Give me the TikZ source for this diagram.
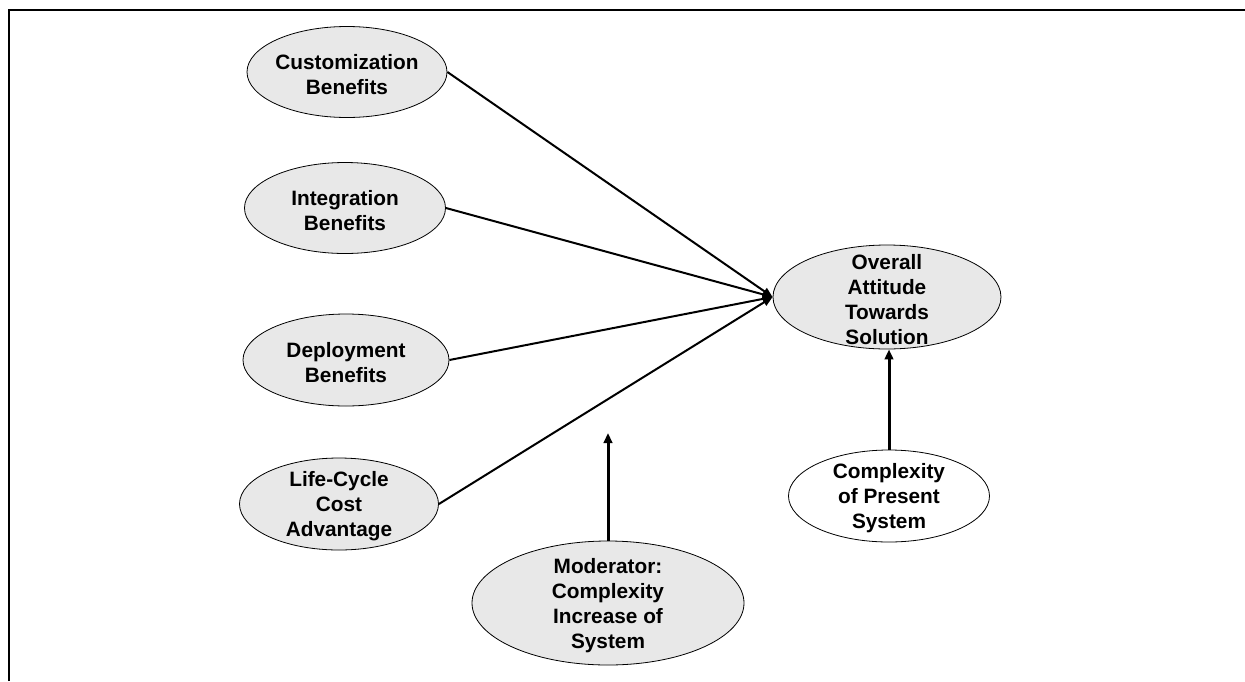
\documentclass[tikz,border=0pt]{standalone}
\usepackage{fontspec}
\setmainfont{Liberation Sans}
\usetikzlibrary{shapes.geometric,arrows.meta}
\definecolor{bubgray}{RGB}{232,232,232}
\begin{document}
\begin{tikzpicture}[x=1pt,y=-1pt,
  bub/.style={ellipse, draw, line width=0.8pt, fill=bubgray, inner sep=0pt},
  plain/.style={bub, fill=white},
  txt/.style={inner sep=0pt, yshift=-2.5pt, align=center, font=\bfseries\fontsize{20.8}{25}\selectfont},
  link/.style={line width=2pt, -{Triangle[length=10pt,width=8pt]}},
  heavy/.style={line width=3pt, -{Triangle[length=10pt,width=8.5pt]}},
  frame/.style={line width=1.8pt}]
\useasboundingbox (0,0) rectangle (1245,681);

% open frame: top and left edges
\coordinate (fl) at (9,681);
\coordinate (fc) at (9,10);
\coordinate (fr) at (1245,10);
\draw[frame] (fl) -- (fc) -- (fr);

% antecedents
\node[bub, minimum width=200, minimum height=91,
  label={[txt,name=cust-t]center:Customization\\Benefits}] (cust) at (347,72) {};
\node[bub, minimum width=201, minimum height=91,
  label={[txt,name=integ-t]center:Integration\\Benefits}] (integ) at (345,208) {};
\node[bub, minimum width=206, minimum height=92,
  label={[txt,name=depl-t]center:Deployment\\Benefits}] (depl) at (346,360) {};
\node[bub, minimum width=199, minimum height=92,
  label={[txt,name=life-t]center:Life-Cycle\\Cost\\Advantage}] (life) at (339,504) {};

% outcome
\node[bub, minimum width=228, minimum height=104,
  label={[txt,name=over-t]center:Overall\\Attitude\\Towards\\Solution}] (over) at (887,297) {};

% moderator and control
\node[bub, minimum width=272, minimum height=124,
  label={[txt,name=mod-t]center:Moderator:\\Complexity\\Increase of\\System}] (mod) at (608,603) {};
\node[plain, minimum width=201, minimum height=92,
  label={[txt,name=cps-t]center:Complexity\\of Present\\System}] (cps) at (889,496) {};

% paths into the outcome
\draw[link] (cust.east) -- (over.west);
\draw[link] (integ.east) -- (over.west);
\draw[link] (depl.east) -- (over.west);
\draw[link] (life.east) -- (over.west);

% moderating effect and control arrow
\coordinate (modtip) at (608,433);
\draw[heavy] (mod.north) -- (modtip);
\draw[heavy] (cps.north) -- (cps.north |- over.south);
\end{tikzpicture}
\end{document}
